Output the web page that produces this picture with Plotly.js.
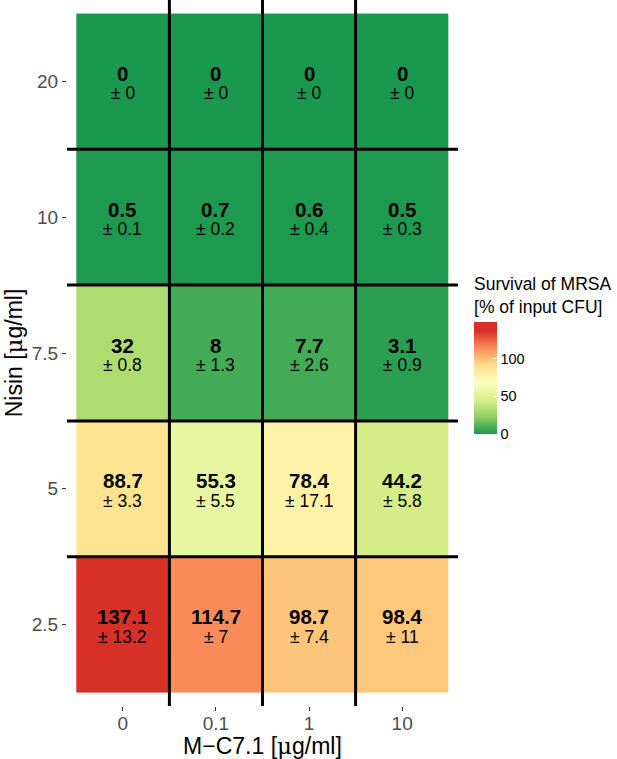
<!DOCTYPE html>
<html>
<head>
<meta charset="utf-8">
<script src="https://cdn.plot.ly/plotly-3.0.1.min.js"></script>
<style>html,body{margin:0;padding:0;background:#fff;}#chart{width:617px;height:759px;}</style>
</head>
<body>
<div id="chart"></div>
<script>
// Columns: M-C7.1 concentration; rows: Nisin concentration (bottom to top)
const mc71 = ["0", "0.1", "1", "10"];
const nisin = ["2.5", "5", "7.5", "10", "20"];
const survival = [
  [137.1, 114.7, 98.7, 98.4],
  [88.7, 55.3, 78.4, 44.2],
  [32, 8, 7.7, 3.1],
  [0.5, 0.7, 0.6, 0.5],
  [0, 0, 0, 0]
];
const sdev = [
  [13.2, 7, 7.4, 11],
  [3.3, 5.5, 17.1, 5.8],
  [0.8, 1.3, 2.6, 0.9],
  [0.1, 0.2, 0.4, 0.3],
  [0, 0, 0, 0]
];
const cbTicks = [0, 50, 100];
const cbMax = 149;   // upper end of the colour bar

const FONT = "Liberation Sans, Arial, Helvetica, sans-serif";
const MU = "<span style='font-family:DejaVu Serif, serif'>\u03bc</span>";
const palette = ["#1a9850", "#91cf60", "#d9ef8b", "#ffffbf", "#fee08b", "#fc8d59", "#d73027"];
const allVals = survival.flat();
const dataMax = Math.max(...allVals);
const s = dataMax / cbMax;
const colorscale = palette.map((c, k) => [k / (palette.length - 1) * s, c]);
colorscale.push([1, palette[palette.length - 1]]);

const trace = {
  type: "heatmap",
  x: mc71, y: nisin, z: survival,
  colorscale: colorscale, zmin: 0, zmax: cbMax,
  hoverinfo: "skip",
  colorbar: {
    x: 1.041, xanchor: "left", xref: "paper",
    y: 0.4986, yanchor: "middle",
    thickness: 23, thicknessmode: "pixels",
    len: 160, lenmode: "pixels", ypad: 0, xpad: 0,
    outlinewidth: 0,
    tickvals: cbTicks, ticktext: cbTicks.map(String),
    ticks: "inside", tickcolor: "#ffffff", ticklen: 4,
    ticklabelstandoff: 15,
    tickfont: {family: FONT, size: 14.5, color: "#000"},
    title: {text: "Survival of MRSA<br>[% of input CFU]", side: "top",
            font: {family: FONT, size: 17.5, color: "#000"}}
  }
};

const annotations = [];
nisin.forEach((ny, i) => {
  mc71.forEach((mx, j) => {
    annotations.push({
      x: j, y: i, xref: "x", yref: "y", showarrow: false,
      text: "<b>" + survival[i][j] + "</b>",
      font: {family: FONT, size: 20.5, color: "#000"},
      align: "center", yshift: 8, borderpad: 0
    });
    annotations.push({
      x: j, y: i, xref: "x", yref: "y", showarrow: false,
      text: "± " + sdev[i][j],
      font: {family: FONT, size: 17.5, color: "#000"},
      align: "center", yshift: -12, borderpad: 0
    });
  });
});

const shapes = [];
for (let k = 0; k < mc71.length - 1; k++) {
  shapes.push({type: "line", xref: "x", yref: "paper", x0: k + 0.5, x1: k + 0.5, y0: 0, y1: 1,
               line: {color: "#000", width: 3}});
}
for (let k = 0; k < nisin.length - 1; k++) {
  shapes.push({type: "line", xref: "paper", yref: "y", x0: 0, x1: 1, y0: k + 0.5, y1: k + 0.5,
               line: {color: "#000", width: 3}});
}

const layout = {
  width: 617, height: 759,
  margin: {l: 67, r: 159, t: 0, b: 53},
  paper_bgcolor: "#fff", plot_bgcolor: "#fff",
  xaxis: {
    type: "category", range: [-0.6, 3.6], showgrid: false, zeroline: false,
    ticks: "outside", ticklen: 4, tickcolor: "#333", tickwidth: 1,
    ticklabelstandoff: -4,
    tickfont: {family: FONT, size: 19, color: "#4d4d4d"},
    title: {text: "M\u2212C7.1 [" + MU + "g/ml]", font: {family: FONT, size: 23, color: "#000"}, standoff: 0}
  },
  yaxis: {
    type: "category", range: [-0.6, 4.6], showgrid: false, zeroline: false,
    ticks: "outside", ticklen: 4, tickcolor: "#333", tickwidth: 1,
    tickfont: {family: FONT, size: 19, color: "#4d4d4d"},
    title: {text: "Nisin [" + MU + "g/ml]", font: {family: FONT, size: 23, color: "#000"}, standoff: 2}
  },
  annotations: annotations,
  shapes: shapes,
  showlegend: false
};

Plotly.newPlot("chart", [trace], layout, {displayModeBar: false, staticPlot: true});
</script>
</body>
</html>
